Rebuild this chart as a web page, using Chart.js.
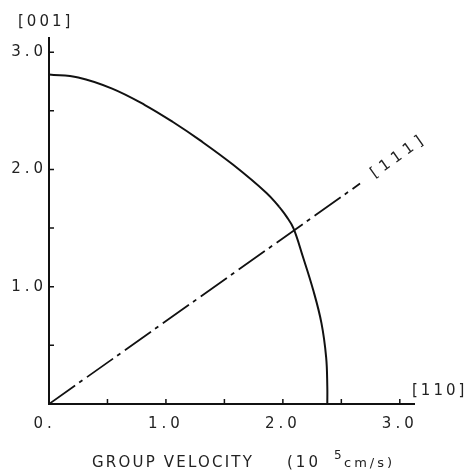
<!DOCTYPE html>
<html>
<head>
<meta charset="utf-8">
<script src="https://cdn.jsdelivr.net/npm/chart.js@4/dist/chart.umd.min.js"></script>
<style>
  html, body { margin: 0; padding: 0; background: #fff; }
  #wrap { width: 471px; height: 475px; position: relative; }
</style>
</head>
<body>
<div id="wrap"><canvas id="chart"></canvas></div>
<script>
// group velocity surface, (1-10) plane: [110] horizontal, [001] vertical
const upperVx = [0.0, 0.25, 0.54, 0.82, 1.06, 1.29, 1.575, 1.86, 1.97];
const upperVz = [2.81, 2.785, 2.69, 2.55, 2.405, 2.25, 2.04, 1.80, 1.68];
const lowerVx = [1.97, 2.03, 2.09, 2.17, 2.26, 2.33, 2.37, 2.38, 2.38];
const lowerVz = [1.68, 1.60, 1.50, 1.26, 0.97, 0.69, 0.40, 0.15, 0.0];
// [111] direction
const dirVx = [0, 2.66];
const dirVz = [0, 1.88];

const xTickLabels = { 0: '0. ', 1: '1.0', 2: '2.0', 3: '3.0' };
const yTickLabels = { 1: '1.0', 2: '2.0', 3: '3.0' };

const INK = '#111';
const FONT = '"DejaVu Sans", sans-serif';

const pts = (xs, ys) => xs.map((x, i) => ({ x, y: ys[i] }));
const labelFor = (table, v) => {
  const k = Math.round(v);
  return Math.abs(v - k) < 1e-6 && table[k] ? table[k] : '';
};

// axes with inward tick marks + direction labels
const axesPlugin = {
  id: 'axesPlugin',
  beforeDraw(chart) {
    chart.ctx.letterSpacing = '4px';
  },
  afterDraw(chart) {
    const { ctx, chartArea: a, scales: { x, y } } = chart;
    ctx.save();
    ctx.strokeStyle = INK;
    ctx.lineWidth = 2;
    ctx.beginPath();
    ctx.moveTo(a.left, a.top);
    ctx.lineTo(a.left, a.bottom);
    ctx.lineTo(a.right, a.bottom);
    ctx.stroke();
    ctx.lineWidth = 1.5;
    ctx.beginPath();
    x.ticks.forEach(t => {
      if (t.value === 0) return;
      const px = x.getPixelForValue(t.value);
      ctx.moveTo(px, a.bottom);
      ctx.lineTo(px, a.bottom - 5);
    });
    y.ticks.forEach(t => {
      if (t.value === 0) return;
      const py = y.getPixelForValue(t.value);
      ctx.moveTo(a.left, py);
      ctx.lineTo(a.left + 5, py);
    });
    ctx.stroke();

    ctx.fillStyle = '#222';
    ctx.textBaseline = 'alphabetic';
    ctx.font = '15px ' + FONT;
    ctx.letterSpacing = '3px';
    ctx.textAlign = 'left';
    ctx.fillText('[001]', a.left - 31, a.top - 11);
    ctx.fillText('[110]', a.right - 3, a.bottom - 9);

    // label at the end of the [111] line, along its direction
    const ex = x.getPixelForValue(dirVx[1]);
    const ey = y.getPixelForValue(dirVz[1]);
    const ang = Math.atan2(ey - y.getPixelForValue(0), ex - x.getPixelForValue(0));
    ctx.save();
    ctx.translate(ex + 15 * Math.cos(ang), ey + 15 * Math.sin(ang));
    ctx.rotate(ang);
    ctx.textBaseline = 'middle';
    ctx.letterSpacing = '5px';
    ctx.fillText('[111]', 0, 0);
    ctx.restore();

    // axis title
    const base = a.bottom + 63;
    ctx.letterSpacing = '2.2px';
    ctx.fillText('GROUP VELOCITY', a.left + 43, base);
    ctx.letterSpacing = '3px';
    ctx.fillText('(10', a.left + 238, base);
    ctx.font = '12px ' + FONT;
    ctx.letterSpacing = '0px';
    ctx.fillText('5', a.left + 285, base - 8);
    ctx.font = '13px ' + FONT;
    ctx.letterSpacing = '3px';
    ctx.fillText('cm/s)', a.left + 295, base);
    ctx.restore();
  }
};

const keepHalfSteps = scale => {
  scale.ticks = scale.ticks.filter(t => Math.abs(t.value * 2 - Math.round(t.value * 2)) < 1e-6);
};

new Chart(document.getElementById('chart'), {
  type: 'scatter',
  data: {
    datasets: [
      {
        data: pts(upperVx, upperVz),
        showLine: true,
        borderColor: INK,
        borderWidth: 2,
        pointRadius: 0,
        tension: 0.4
      },
      {
        data: pts(lowerVx, lowerVz),
        showLine: true,
        borderColor: INK,
        borderWidth: 2,
        pointRadius: 0,
        tension: 0.4
      },
      {
        data: pts(dirVx, dirVz),
        showLine: true,
        borderColor: INK,
        borderWidth: 1.8,
        borderDash: [32, 5, 4, 5.5],
        pointRadius: 0
      }
    ]
  },
  options: {
    responsive: true,
    maintainAspectRatio: false,
    animation: false,
    layout: { padding: { top: 37, right: 56, left: 0, bottom: 0 } },
    plugins: {
      legend: { display: false },
      tooltip: { enabled: false }
    },
    scales: {
      x: {
        type: 'linear',
        min: 0,
        max: 3.13,
        grid: { display: false },
        border: { display: false },
        afterBuildTicks: keepHalfSteps,
        afterFit: s => { s.height = 71; },
        ticks: {
          stepSize: 0.5,
          includeBounds: false,
          autoSkip: false,
          maxRotation: 0,
          padding: 3,
          color: '#222',
          font: { family: FONT, size: 15 },
          callback: v => labelFor(xTickLabels, v)
        }
      },
      y: {
        type: 'linear',
        min: 0,
        max: 3.13,
        grid: { display: false },
        border: { display: false },
        afterBuildTicks: keepHalfSteps,
        afterFit: s => { s.width = 49; },
        ticks: {
          stepSize: 0.5,
          includeBounds: false,
          autoSkip: false,
          padding: -6,
          color: '#222',
          font: { family: FONT, size: 15 },
          callback: v => labelFor(yTickLabels, v)
        }
      }
    }
  },
  plugins: [axesPlugin]
});
</script>
</body>
</html>
